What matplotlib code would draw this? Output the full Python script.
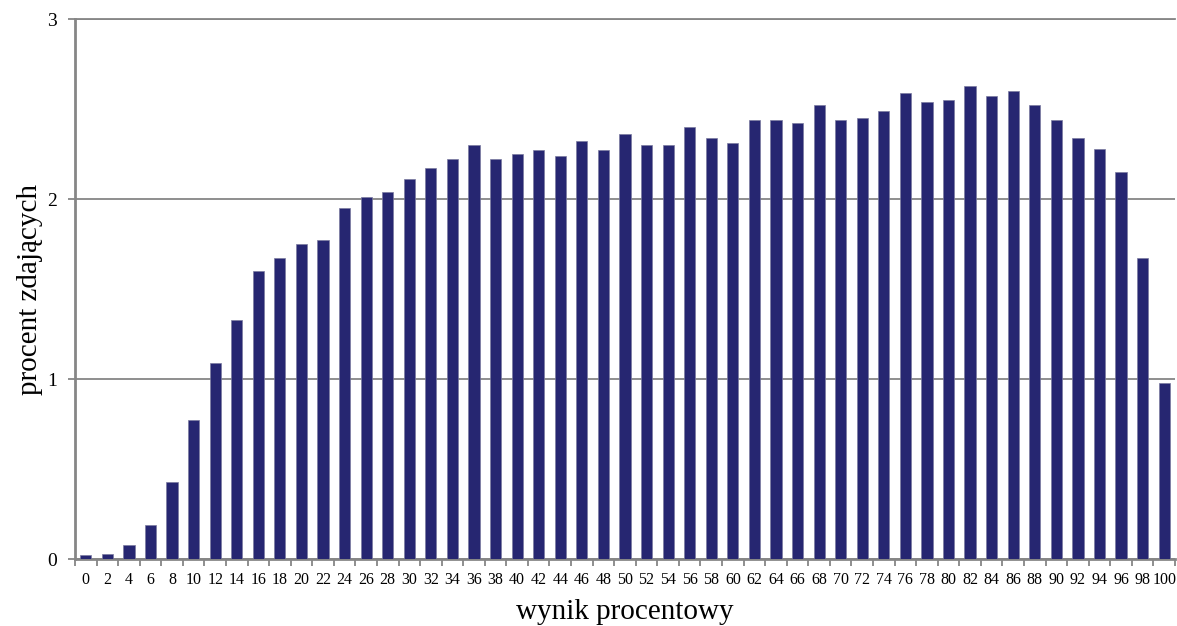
import numpy as np
import matplotlib
matplotlib.use('Agg')
import matplotlib.pyplot as plt
from matplotlib.ticker import FixedLocator

# wynik procentowy (0, 2, ..., 100) and share of candidates in percent
wyniki = list(range(0, 101, 2))
procent = [0.02, 0.03, 0.08, 0.19, 0.43, 0.77, 1.09, 1.33, 1.60, 1.67,
           1.75, 1.77, 1.95, 2.01, 2.04, 2.11, 2.17, 2.22, 2.30, 2.22,
           2.25, 2.27, 2.24, 2.32, 2.27, 2.36, 2.30, 2.30, 2.40, 2.34,
           2.31, 2.44, 2.44, 2.42, 2.52, 2.44, 2.45, 2.49, 2.59, 2.54,
           2.55, 2.63, 2.57, 2.60, 2.52, 2.44, 2.34, 2.28, 2.15, 1.67,
           0.98]
y_ticks = [0, 1, 2, 3]

plt.rcParams['font.family'] = ['Liberation Serif', 'DejaVu Serif']

fig = plt.figure(figsize=(11.77, 6.26), dpi=100)
ax = fig.add_axes([0.0637, 0.107, 0.9346, 0.8626])

x = np.arange(len(wyniki))
ax.bar(x, procent, width=0.52, color='#262671', edgecolor='#7a7aa0',
       linewidth=0.5, zorder=3)

grid_col = '#868686'
ax.set_ylim(0, 3)
ax.set_xlim(-0.5, len(wyniki) - 0.5)
ax.set_yticks(y_ticks)
ax.set_yticklabels([str(t) for t in y_ticks], fontsize=14)
ax.yaxis.grid(True, color=grid_col, linewidth=1.3, zorder=0)

ax.set_xticks(x)
ax.set_xticklabels([str(w) for w in wyniki], fontsize=11.5)
ax.xaxis.set_minor_locator(FixedLocator(np.arange(-0.5, len(wyniki), 1.0)))
ax.tick_params(axis='x', which='major', length=0, pad=9)
ax.tick_params(axis='x', which='minor', length=5, width=1.3, color=grid_col)
ax.tick_params(axis='y', length=5, width=1.3, color=grid_col, pad=8)

ax.spines['right'].set_visible(False)
ax.spines['top'].set_color(grid_col)
ax.spines['top'].set_linewidth(1.3)
ax.spines['left'].set_color(grid_col)
ax.spines['left'].set_linewidth(2)
ax.spines['bottom'].set_color(grid_col)
ax.spines['bottom'].set_linewidth(2)

ax.set_xlabel('wynik procentowy', fontsize=21, labelpad=8)
ax.set_ylabel('procent zdających', fontsize=21, labelpad=3)

fig.savefig('out.png', dpi=100)
